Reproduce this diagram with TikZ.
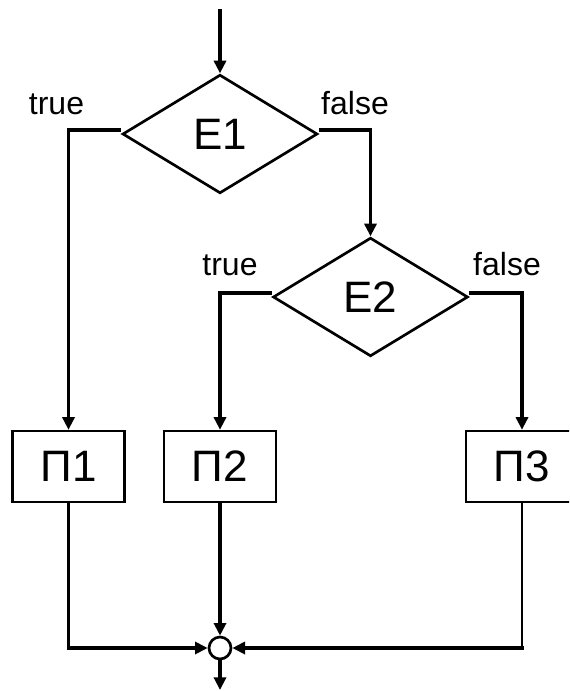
\documentclass[tikz,border=0pt]{standalone}
\usepackage{fontspec}
\setmainfont{Liberation Sans}
\usetikzlibrary{shapes.geometric,arrows.meta}
\begin{document}
\begin{tikzpicture}[x=0.75pt,y=-0.75pt,
  dec/.style={diamond,draw,line width=2pt,minimum width=146.25pt,minimum height=89pt,inner sep=0pt,font=\fontsize{33}{33}\selectfont},
  blk/.style={rectangle,draw,line width=1.8pt,minimum width=84pt,minimum height=53.25pt,inner sep=0pt,font=\fontsize{33}{33}\selectfont},
  junc/.style={circle,draw,line width=2pt,minimum size=16.5pt,inner sep=0pt},
  lbl/.style={font=\fontsize{24}{24}\selectfont,inner sep=0pt,anchor=base},
  flow/.style={line width=2.5pt,-{Triangle[length=9.5pt,width=9pt]}},
  thinflow/.style={line width=1.8pt},
  thickseg/.style={line width=2.5pt,line cap=rect,-{Triangle[length=9.5pt,width=9pt]}}
]
\useasboundingbox (0,0) rectangle (569,691);
\clip (0,0) rectangle (569,691);
\fill[white] (0,0) rectangle (569,691);

\coordinate (start) at (220,9);
\node[dec] (e1) at (220,134) {E1};
\node[dec] (e2) at (370.5,297) {E2};
\node[blk] (p1) at (68.5,466.5) {П1};
\node[blk] (p2) at (220,466.5) {П2};
\node[blk] (p3) at (522,466.5) {П3};
\node[junc] (j) at (220,648) {};
\coordinate (end) at (220,690);

\node[lbl] (t1) at (56.5,115) {true};
\node[lbl] (f1) at (355,115) {false};
\node[lbl] (t2) at (230,275) {true};
\node[lbl] (f2) at (507,275) {false};

\draw[flow] (start) -- (e1.north);
\draw[flow] ([yshift=3pt]e1.west) -| (p1.north);
\draw[flow] ([yshift=3pt]e1.east) -| (e2.north);
\draw[flow] ([yshift=3pt]e2.west) -| (p2.north);
\draw[flow] ([yshift=3pt]e2.east) -| (p3.north);
\draw[flow] (p2.south) -- (j.north);

\coordinate (c1) at (p1.south |- j.west);
\coordinate (c3) at (p3.south |- j.east);
\draw[thinflow] (p1.south) -- (c1);
\draw[thickseg] (c1) -- (j.west);
\draw[thinflow] (p3.south) -- (c3);
\draw[thickseg] (c3) -- (j.east);
\draw[flow] (j.south) -- (end);
\end{tikzpicture}
\end{document}
